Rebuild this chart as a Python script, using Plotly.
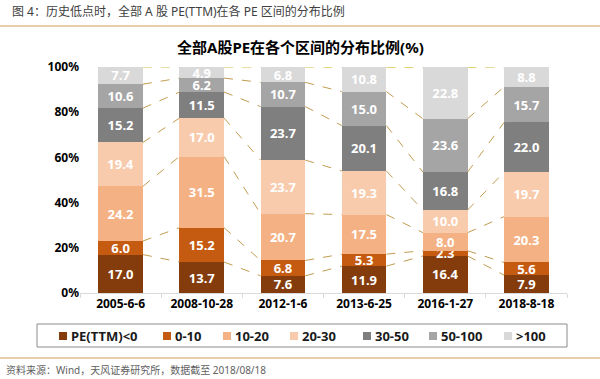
import plotly.graph_objects as go
import numpy as np

dates = ["2005-6-6", "2008-10-28", "2012-1-6", "2013-6-25", "2016-1-27", "2018-8-18"]
series_names = ["PE(TTM)<0", "0-10", "10-20", "20-30", "30-50", "50-100", ">100"]
pe_neg = [17.0, 13.7, 7.6, 11.9, 16.4, 7.9]
pe_0_10 = [6.0, 15.2, 6.8, 5.3, 2.3, 5.6]
pe_10_20 = [24.2, 31.5, 20.7, 17.5, 8.0, 20.3]
pe_20_30 = [19.4, 17.0, 23.7, 19.3, 10.0, 19.7]
pe_30_50 = [15.2, 11.5, 23.7, 20.1, 16.8, 22.0]
pe_50_100 = [10.6, 6.2, 10.7, 15.0, 23.6, 15.7]
pe_gt_100 = [7.7, 4.9, 6.8, 10.8, 22.8, 8.8]
y_ticks = [0, 20, 40, 60, 80, 100]

all_series = [pe_neg, pe_0_10, pe_10_20, pe_20_30, pe_30_50, pe_50_100, pe_gt_100]
colors = ["#843C0C", "#C55A11", "#F4B183", "#F8CBAD", "#7F7F7F", "#A5A5A5", "#D9D9D9"]

BAR_W = 0.55
FONT = "Noto Sans, Noto Sans CJK SC, sans-serif"
xpos = list(range(len(dates)))

fig = go.Figure()

# series (connector) lines between bars
cum = np.cumsum(np.array(all_series), axis=0)
for k in range(cum.shape[0]):
    xs, ys = [], []
    for i in range(len(dates) - 1):
        xs += [xpos[i] + BAR_W / 2, xpos[i + 1] - BAR_W / 2, None]
        ys += [min(cum[k][i], 100), min(cum[k][i + 1], 100), None]
    fig.add_trace(go.Scatter(
        x=xs, y=ys, mode="lines", showlegend=False, hoverinfo="skip",
        line=dict(color="#D9BE45" if k == cum.shape[0] - 1 else "#C29C50", width=1, dash="dash"),
    ))

for name, vals, col in zip(series_names, all_series, colors):
    fig.add_trace(go.Bar(
        x=xpos, y=vals, name=name, width=BAR_W,
        marker=dict(color=col, line=dict(width=0)),
        text=[f"{v:.1f}" for v in vals], textposition="inside",
        insidetextanchor="middle", textangle=0,
        textfont=dict(color="white", size=13, family=FONT, weight="bold"),
    ))

W, H = 600, 379
L, R, T, B = 80, 33, 67, 86
pw, ph = W - L - R, H - T - B

def px_x(p):
    return (p - L) / pw

def px_y(p):
    return (H - B - p) / ph

fig.update_layout(
    width=W, height=H, barmode="stack",
    margin=dict(l=L, r=R, t=T, b=B),
    paper_bgcolor="white", plot_bgcolor="white",
    font=dict(family=FONT, color="#000000"),
    uniformtext=dict(minsize=13, mode="show"),
    showlegend=False,
    xaxis=dict(
        range=[-0.5, len(dates) - 0.5], tickmode="array", tickvals=xpos, ticktext=dates,
        showgrid=False, zeroline=False, showline=True, linecolor="#D9D9D9", linewidth=1,
        ticks="", tickfont=dict(size=12, weight="bold", family=FONT),
        minor=dict(tickmode="array", tickvals=[i - 0.5 for i in range(len(dates) + 1)],
                   ticks="outside", ticklen=4, tickcolor="#D9D9D9", showgrid=False),
    ),
    yaxis=dict(
        range=[0, 100], tickmode="array", tickvals=y_ticks,
        ticktext=[f"{v}%" for v in y_ticks],
        showgrid=False, zeroline=False, showline=False, ticks="",
        tickfont=dict(size=12, weight="bold", family=FONT),
    ),
)

# legend drawn manually (box, swatches, labels)
legend_box = (37, 324, 567, 347)
legend_sym_x = [59, 163, 223, 290, 363, 429, 504]
legend_cy = 336
fig.add_shape(type="rect", xref="paper", yref="paper",
              x0=px_x(legend_box[0]), x1=px_x(legend_box[2]),
              y0=px_y(legend_box[1]), y1=px_y(legend_box[3]),
              line=dict(color="#8C8C8C", width=1), fillcolor="rgba(0,0,0,0)")
for name, col, sx in zip(series_names, colors, legend_sym_x):
    fig.add_shape(type="rect", xref="paper", yref="paper",
                  x0=px_x(sx), x1=px_x(sx + 8), y0=px_y(legend_cy - 4), y1=px_y(legend_cy + 4),
                  line=dict(width=0), fillcolor=col)
    fig.add_annotation(text=f"<b>{name}</b>", xref="paper", yref="paper",
                       x=px_x(sx + 10), y=px_y(legend_cy), xanchor="left", yanchor="middle",
                       showarrow=False, font=dict(size=13, color="#1A1A1A", family=FONT))

fig.add_annotation(text="图 4：历史低点时，全部 A 股 PE(TTM)在各 PE 区间的分布比例",
                   xref="paper", yref="paper", x=px_x(10), y=px_y(12), xanchor="left", yanchor="middle",
                   showarrow=False, font=dict(size=12, color="#404040", family=FONT))
fig.add_annotation(text="<b>全部A股PE在各个区间的分布比例(%)</b>",
                   xref="paper", yref="paper", x=px_x(300), y=px_y(47), xanchor="center", yanchor="middle",
                   showarrow=False, font=dict(size=15, color="#000000", family=FONT))
fig.add_annotation(text="资料来源：Wind，天风证券研究所，数据截至 2018/08/18",
                   xref="paper", yref="paper", x=px_x(4), y=px_y(370), xanchor="left", yanchor="middle",
                   showarrow=False, font=dict(size=10, color="#606060", family=FONT))
fig.add_shape(type="line", xref="paper", yref="paper", x0=px_x(0), x1=px_x(600),
              y0=px_y(26), y1=px_y(26), line=dict(color="#E3BE8E", width=1.5))
fig.add_shape(type="line", xref="paper", yref="paper", x0=px_x(0), x1=px_x(600),
              y0=px_y(358), y1=px_y(358), line=dict(color="#E3BE8E", width=1.5))

fig.write_html("out.html", config={"displayModeBar": False},
               post_script="document.body.style.margin='0';document.body.style.padding='0';")
